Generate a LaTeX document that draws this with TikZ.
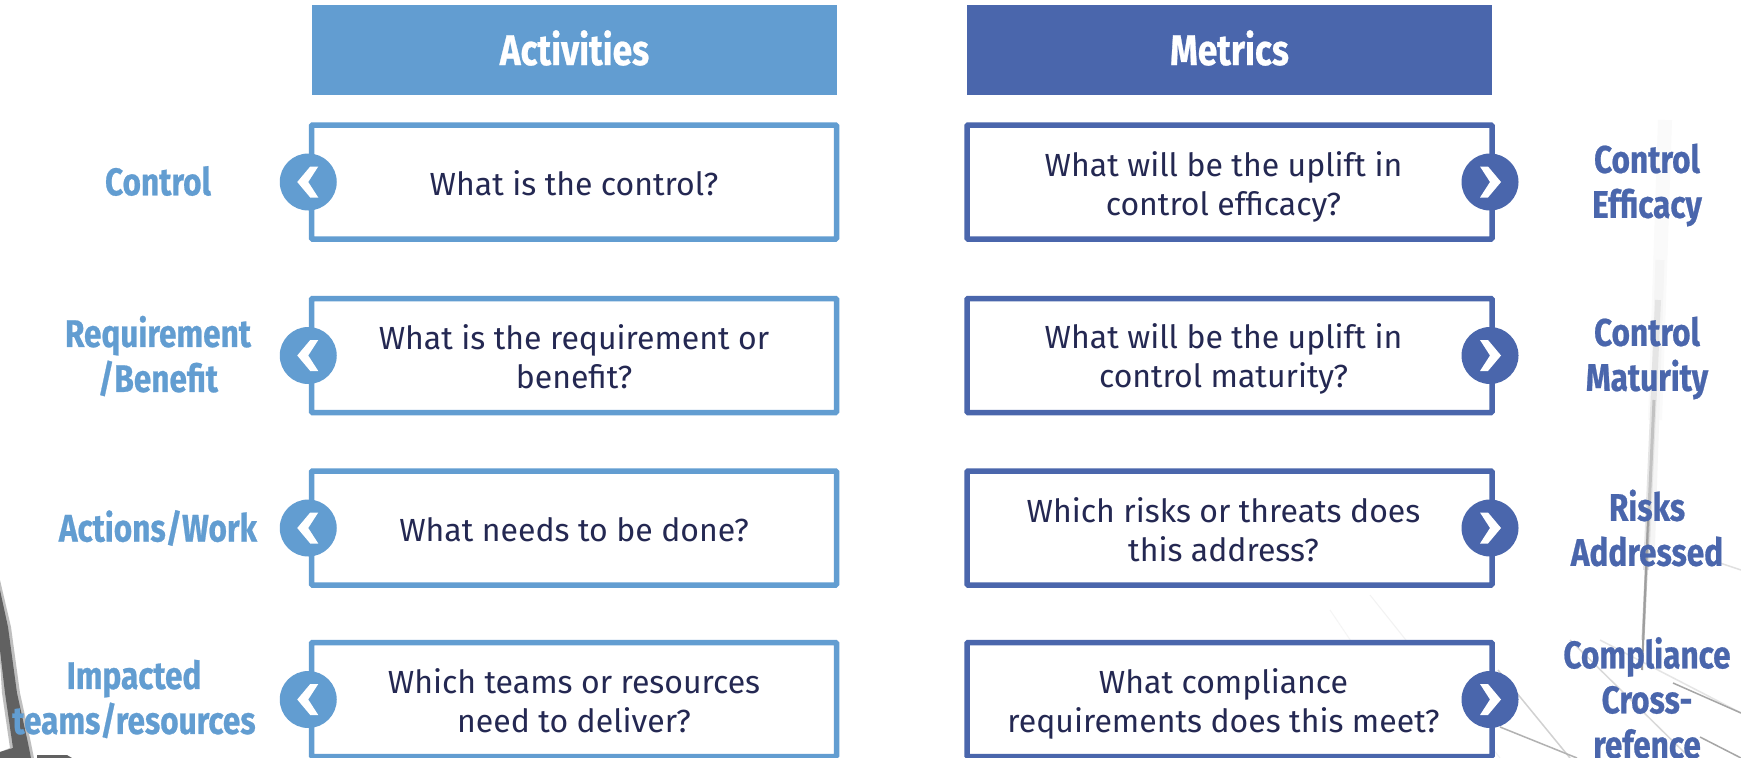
\documentclass[tikz,border=0pt]{standalone}
\usepackage{fontspec}
\setmainfont{Fira Sans}
\newfontfamily\labfont[FakeStretch=0.82,FakeBold=0.6]{Fira Sans}
\definecolor{actblue}{HTML}{629DD1}
\definecolor{metblue}{HTML}{4A66AC}
\definecolor{ink}{HTML}{242852}
\tikzset{x=1pt,y=-1pt,
 head/.style={fill=#1,minimum width=525pt,minimum height=90pt,inner sep=0pt,text=white,font=\labfont\bfseries\fontsize{43}{48}\selectfont},
 qbox/.style={draw=#1,fill=white,line width=5.5pt,rounded corners=1pt,minimum width=525pt,minimum height=114pt,inner sep=0pt},
 qtext/.style={align=center,text=ink,inner sep=0pt,font=\fontsize{32}{39}\selectfont},
 disc/.style={circle,fill=#1,minimum size=57pt,inner sep=0pt},
 chev/.style={fill=white},
 side/.style={text=#1,align=center,inner sep=0pt,font=\labfont\bfseries\fontsize{38.5}{45}\selectfont},
 streak/.style={draw=black!#1}}
\begin{document}
\begin{tikzpicture}
\useasboundingbox (0,0) rectangle (1741,758);
\fill[white] (0,0) rectangle (1741,758);
\begin{scope}
\clip (0,0) rectangle (1741,758);
% lower left dark wedge
\fill[black!25] (0,580) -- (11,627) -- (20,693) -- (31,743) -- (34,758) -- (0,758) -- (0,752) -- (10,748) -- (2,693) -- (0,660) -- cycle;
\fill[black!62] (0,590) -- (8,627) -- (17,693) -- (28,743) -- (31,758) -- (0,758) -- (0,752) -- (13,748) -- (5,693) -- (0,650) -- cycle;
\fill[black!62] (37,755) -- (67,755) -- (72,758) -- (37,758) -- cycle;
% vertical streak on the right, soft edges from layered strokes
\draw[streak=2,line width=14pt] (1665,120) -- (1655,420);
\draw[streak=4,line width=9pt] (1660,260) -- (1650,560);
\draw[streak=10,line width=6pt] (1658,300) -- (1646,570);
\draw[streak=24,line width=3pt] (1654,400) -- (1643,640);
\draw[streak=38,line width=2pt] (1648,520) -- (1642,670);
% lines in the lower right
\draw[streak=4,line width=1pt] (1330,610) -- (1430,758);
\draw[streak=5,line width=1pt] (1370,595) -- (1500,758);
\draw[streak=18,line width=1.5pt] (1498,670) -- (1570,758);
\draw[streak=30,line width=1.5pt] (1500,727) -- (1577,758);
\draw[streak=15,line width=1.5pt] (1570,640) -- (1690,758);
\draw[streak=10,line width=1.5pt] (1600,640) -- (1741,713);
\draw[streak=35,line width=1.5pt] (1673,683) -- (1741,713);
\draw[streak=35,line width=1.5pt] (1700,737) -- (1741,758);
\draw[streak=12,line width=1.5pt] (1720,563) -- (1741,570);
\end{scope}
% headers
\node[head=actblue] (hA) at (574.5,50) {};
\node[head=metblue] (hM) at (1229.5,50) {};
\node[head=actblue,fill=none] (thA) at (574.5,48) {Activities};
\node[head=metblue,fill=none] (thM) at (1229.5,48) {Metrics};
% boxes
\node[qbox=actblue] (a1) at (574,182) {};
\node[qbox=actblue] (a2) at (574,355.5) {};
\node[qbox=actblue] (a3) at (574,528) {};
\node[qbox=actblue] (a4) at (574,699.5) {};
\node[qbox=metblue] (m1) at (1229.5,182) {};
\node[qbox=metblue] (m2) at (1229.5,355.5) {};
\node[qbox=metblue] (m3) at (1229.5,528) {};
\node[qbox=metblue] (m4) at (1229.5,699.5) {};
% box texts
\node[qtext] (ta1) at ([yshift=-1pt]a1.center) {What is the control?};
\node[qtext] (ta2) at ([yshift=-1.2pt]a2.center) {What is the requirement or\\benefit?};
\node[qtext] (ta3) at ([yshift=-1.2pt]a3.center) {What needs to be done?};
\node[qtext] (ta4) at ([yshift=-0.8pt]a4.center) {Which teams or resources\\need to deliver?};
\node[qtext] (tm1) at ([xshift=-6pt,yshift=-4.8pt]m1.center) {What will be the uplift in\\control efficacy?};
\node[qtext] (tm2) at ([xshift=-6pt,yshift=-3.4pt]m2.center) {What will be the uplift in\\control maturity?};
\node[qtext] (tm3) at ([xshift=-6pt,yshift=-1.8pt]m3.center) {Which risks or threats does\\this address?};
\node[qtext] (tm4) at ([xshift=-6pt,yshift=-4.8pt]m4.center) {What compliance\\requirements does this meet?};
% discs and chevrons
\foreach \n in {1,2,3,4}{
 \node[disc=actblue] (da\n) at ([xshift=-0.5pt]a\n.west) {};
 \node[disc=metblue] (dm\n) at ([xshift=-4.75pt]m\n.east) {};
 \fill[chev,shift={(da\n.center)}] (-11,0) -- (2,-15.5) -- (10,-15.5) -- (0,0) -- (10,15.5) -- (2,15.5) -- cycle;
 \fill[chev,shift={(dm\n.center)}] (11,0) -- (-2,-15.5) -- (-10,-15.5) -- (0,0) -- (-10,15.5) -- (-2,15.5) -- cycle;
}
% side labels
\node[side=actblue] (la1) at (158,181) {Control};
\node[side=actblue] (la2) at (158,356) {Requirement\\/Benefit};
\node[side=actblue] (la3) at (158,528) {Actions/Work};
\node[side=actblue] (la4) at (134,699) {Impacted\\teams/resources};
\node[side=metblue] (lm1) at (1647,185) {Control\\Efficacy};
\node[side=metblue] (lm2) at (1647,358) {Control\\Maturity};
\node[side=metblue] (lm3) at (1647,528) {Risks\\Addressed};
\node[side=metblue] (lm4) at (1647,698) {Compliance\\Cross-\\refence};
\end{tikzpicture}
\end{document}
